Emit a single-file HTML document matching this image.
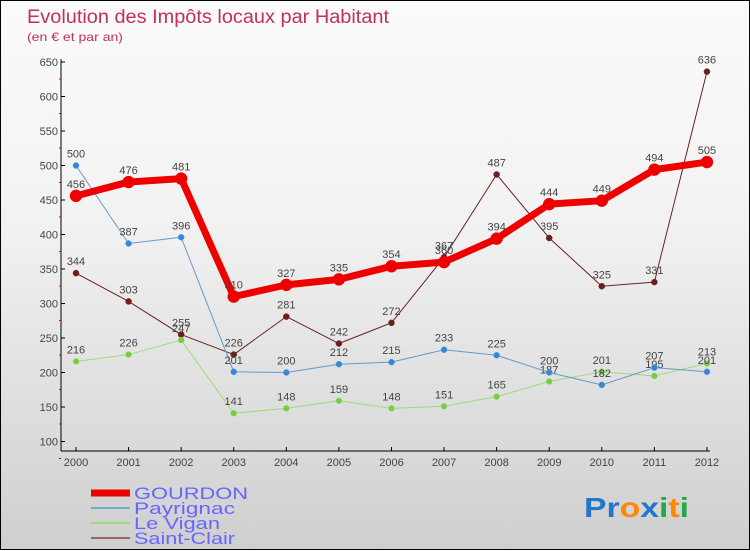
<!DOCTYPE html>
<html><head><meta charset="utf-8"><style>
body{margin:0;}
#c{width:748px;height:548px;border:1px solid #000;background:linear-gradient(#fbfbfb,#f2f2f2 40%,#cfcfcf);position:relative;font-family:"Liberation Sans",sans-serif;}
svg{position:absolute;left:0;top:0}
</style></head><body>
<div id="c">
<svg id="s" width="750" height="550">
<text x="26" y="22" font-size="19" fill="#c0305a" textLength="362" lengthAdjust="spacingAndGlyphs">Evolution des Impôts locaux par Habitant</text>
<text x="26" y="40" font-size="12" fill="#c0305a" textLength="96" lengthAdjust="spacingAndGlyphs">(en € et par an)</text>
</svg>
</div>
<script>
const years=[2000,2001,2002,2003,2004,2005,2006,2007,2008,2009,2010,2011,2012];
const yTicks=[100,150,200,250,300,350,400,450,500,550,600,650];
const gourdon=[456,476,481,310,327,335,354,360,394,444,449,494,505];
const payrignac=[500,387,396,201,200,212,215,233,225,200,182,207,201];
const levigan=[216,226,247,141,148,159,148,151,165,187,201,195,213];
const saintclair=[344,303,255,226,281,242,272,367,487,395,325,331,636];
const s=document.getElementById('s');const NS='http://www.w3.org/2000/svg';
const X=i=>75+i*52.58;const Y=v=>61+(650-v)*0.69;
function el(t,a,p){const e=document.createElementNS(NS,t);for(const k in a)e.setAttribute(k,a[k]);(p||s).appendChild(e);return e;}
let e;
e=el('line',{x1:60,y1:58,x2:60,y2:450,stroke:'#000'});


e=el('line',{x1:60,y1:450,x2:709,y2:450,stroke:'#000'});


yTicks.forEach(v=>{el('line',{x1:60,x2:64,y1:Y(v),y2:Y(v),stroke:'#000'});
 el('line',{x1:58,x2:60,y1:Y(v)+17,y2:Y(v)+17,stroke:'#e00'});
 const t=el('text',{x:57,y:Y(v)+4,'font-size':11,fill:'#444','text-anchor':'end'});t.textContent=v;
 
 });
years.forEach((y,i)=>{el('line',{x1:X(i),x2:X(i),y1:446,y2:450,stroke:'#000'});
 const t=el('text',{x:X(i),y:465,'font-size':11,fill:'#444','text-anchor':'middle'});t.textContent=y;
 
 });
function series(d,col,w,r,dot,name){
 const g=el('g',{});
 
 
 el('polyline',{points:d.map((v,i)=>X(i)+','+Y(v)).join(' '),fill:'none',stroke:col,'stroke-width':w,'stroke-linejoin':'round'},g);
 d.forEach((v,i)=>{const c=el('circle',{cx:X(i),cy:Y(v),r:r,fill:dot,stroke:col,'stroke-width':0.5},g);
  
  
  const t=el('text',{x:X(i),y:Y(v)-8,'font-size':11,fill:'#444','text-anchor':'middle'},g);t.textContent=v;
  
  });
}
series(saintclair,'#6b2020',1,3,'#6b2020','saint-clair');
series(levigan,'#99dd77',1,3,'#77cc44','le-vigan');
series(payrignac,'#6699cc',1,3,'#3388dd','payrignac');
series(gourdon,'#ee0000',7,6,'#ee0000','gourdon');
const leg=[['GOURDON','#ee0000',7,114],['Payrignac','#77aacc',2,101],['Le Vigan','#99dd77',2,86],['Saint-Clair','#996666',2,101]];
leg.forEach((l,i)=>{const y=492+i*15;const g=el('g',{});
 
 
 el('line',{x1:90,x2:129,y1:y,y2:y,stroke:l[1],'stroke-width':l[2]},g);
 const t=el('text',{x:133,y:y+6,'font-size':17,fill:'#6666ff',textLength:l[3],lengthAdjust:'spacingAndGlyphs'},g);t.textContent=l[0];});
const lg=el('text',{x:583,y:516,'font-size':28,'font-weight':'bold',textLength:105,lengthAdjust:'spacingAndGlyphs'});


[['Pr','#2277cc'],['o','#ff8800'],['x','#2277cc'],['i','#22aa44'],['t','#ff8800'],['i','#22aa44']].forEach(p=>{const ts=el('tspan',{fill:p[1]},lg);ts.textContent=p[0];});
</script>
</body></html>
